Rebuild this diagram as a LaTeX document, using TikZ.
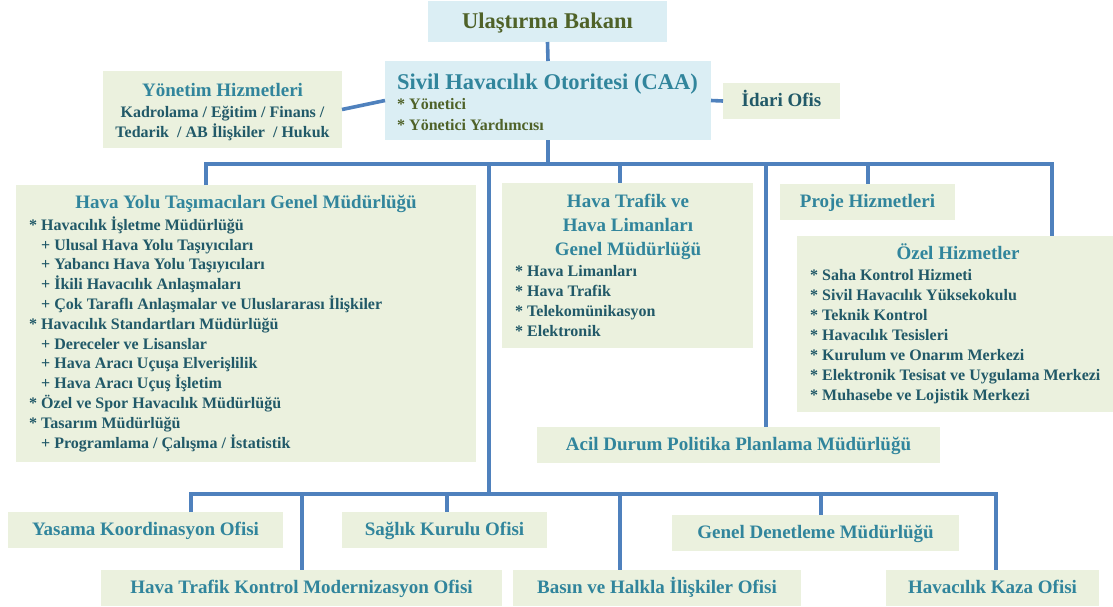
\documentclass[tikz,border=0pt]{standalone}
\usepackage{fontspec}
\setmainfont{Liberation Serif}
\usepackage{tikz}
\definecolor{boxblue}{HTML}{DBEEF4}
\definecolor{boxgreen}{HTML}{EBF1DE}
\definecolor{wire}{HTML}{4F81BD}
\definecolor{head}{HTML}{31859C}
\definecolor{dark}{HTML}{215968}
\definecolor{moss}{HTML}{4F6228}

\begin{document}
\begin{tikzpicture}[x=1pt, y=-1pt,
  box/.style={inner sep=0pt, outer sep=0pt},
  gbox/.style={box, fill=boxgreen},
  bbox/.style={box, fill=boxblue},
  ttl/.style={font=\fontsize{19}{22}\selectfont\bfseries, text=head, text height=13pt, text depth=2pt},
  big/.style={font=\fontsize{22.5}{26}\selectfont\bfseries, text height=16pt, text depth=3pt, inner sep=0pt},
  itm/.style={font=\fontsize{16}{19}\selectfont\bfseries, text=dark, anchor=west, inner sep=0pt, text height=11pt, text depth=2pt},
  link/.style={draw=wire, line width=3.6pt}]
\useasboundingbox (0,0) rectangle (1113,606);

% top
\node[bbox, big, text=moss, minimum width=239, minimum height=41] (bakan) at (547.5,21.5) {Ulaştırma Bakanı};
\node[bbox, minimum width=326, minimum height=79, anchor=north west] (caa) at (385,61) {};
\node[big, text=head, anchor=west] (caa-t) at (397,83) {Sivil Havacılık Otoritesi (CAA)};
\foreach \t [count=\k] in {Yönetici, Yönetici Yardımcısı}
  \node[itm, text=moss] (caa-\k) at (397,84+21*\k) {* \t};

\node[gbox, minimum width=239, minimum height=77] (yon) at (222.5,109.5) {};
\node[ttl] (yon-t) at (222.5,91) {Yönetim Hizmetleri};
\node[itm, anchor=center] (yon-1) at (222.5,113) {Kadrolama / Eğitim / Finans /};
\node[itm, anchor=center] (yon-2) at (222.5,133) {Tedarik \ / AB İlişkiler \ / Hukuk};

\node[gbox, ttl, text=dark, minimum width=117, minimum height=36] (idari) at (781.5,101) {İdari Ofis};

% middle
\node[gbox, minimum width=460, minimum height=277, anchor=north west] (hy) at (16,185) {};
\node[ttl] (hy-t) at (246,203) {Hava Yolu Taşımacıları Genel Müdürlüğü};
\foreach \d/\t [count=\k] in {
  0/{* Havacılık İşletme Müdürlüğü},
  1/{+ Ulusal Hava Yolu Taşıyıcıları},
  1/{+ Yabancı Hava Yolu Taşıyıcıları},
  1/{+ İkili Havacılık Anlaşmaları},
  1/{+ Çok Taraflı Anlaşmalar ve Uluslararası İlişkiler},
  0/{* Havacılık Standartları Müdürlüğü},
  1/{+ Dereceler ve Lisanslar},
  1/{+ Hava Aracı Uçuşa Elverişlilik},
  1/{+ Hava Aracı Uçuş İşletim},
  0/{* Özel ve Spor Havacılık Müdürlüğü},
  0/{* Tasarım Müdürlüğü},
  1/{+ Programlama / Çalışma / İstatistik}}
  \node[itm] (hy-\k) at ({29+12*\d},{206+19.8*\k}) {\t};

\node[gbox, minimum width=251, minimum height=165, anchor=north west] (htf) at (502,183) {};
\foreach \t [count=\k] in {Hava Trafik ve, Hava Limanları, Genel Müdürlüğü}
  \node[ttl] (htf-t\k) at (628,178+24*\k) {\t};
\foreach \t [count=\k] in {Hava Limanları, Hava Trafik, Telekomünikasyon, Elektronik}
  \node[itm] (htf-\k) at (515,251.5+20*\k) {* \t};

\node[gbox, ttl, minimum width=175, minimum height=36] (proje) at (867.5,202) {Proje Hizmetleri};

\node[gbox, minimum width=316, minimum height=176, anchor=north west] (ozel) at (797,236) {};
\node[ttl] (ozel-t) at (958,254) {Özel Hizmetler};
\foreach \t [count=\k] in {Saha Kontrol Hizmeti, Sivil Havacılık Yüksekokulu, Teknik Kontrol,
  Havacılık Tesisleri, Kurulum ve Onarım Merkezi, Elektronik Tesisat ve Uygulama Merkezi,
  Muhasebe ve Lojistik Merkezi}
  \node[itm] (ozel-\k) at (810,255.7+20*\k) {* \t};

\node[gbox, ttl, minimum width=403, minimum height=36] (acil) at (738.5,445) {Acil Durum Politika Planlama Müdürlüğü};

% bottom row
\foreach \n/\x/\y/\w/\t in {
  yasama/145.5/530/275/{Yasama Koordinasyon Ofisi},
  saglik/444.5/530/205/{Sağlık Kurulu Ofisi},
  gdm/815.5/533/287/{Genel Denetleme Müdürlüğü},
  htkmo/301.5/588/401/{Hava Trafik Kontrol Modernizasyon Ofisi},
  basin/657/588/288/{Basın ve Halkla İlişkiler Ofisi},
  kaza/992.5/588/213/{Havacılık Kaza Ofisi}}
  \node[gbox, ttl, minimum width=\w, minimum height=36] (\n) at (\x,\y) {\t};

% connectors
\draw[link] (bakan.south) -- (caa.north);
\draw[link] (yon.east) -- (caa.west);
\draw[link] (caa.east) -- (idari.west);
\coordinate (up-l) at (206,164);
\coordinate (up-r) at (1052,164);
\coordinate (trunk) at (489,164);
\coordinate (lo-l) at (191,494);
\coordinate (lo-r) at (996,494);
\draw[link] (caa.south) -- (caa.south |- up-l);
\draw[link] (up-l |- hy.north) -- (up-l) -- (up-r) -- (up-r |- ozel.north);
\foreach \x/\n in {620/htf, 766/acil, 868/proje}{
  \coordinate (drop-\n) at (\x,164);
  \draw[link] (drop-\n) -- (drop-\n |- \n.north);
}
\draw[link] (trunk) -- (trunk |- lo-l);
\draw[link] (lo-l |- yasama.north) -- (lo-l) -- (lo-r) -- (lo-r |- kaza.north);
\foreach \x/\n in {302/htkmo, 447/saglik, 620/basin, 821/gdm}{
  \coordinate (drop-\n) at (\x,494);
  \draw[link] (drop-\n) -- (drop-\n |- \n.north);
}
\end{tikzpicture}
\end{document}
